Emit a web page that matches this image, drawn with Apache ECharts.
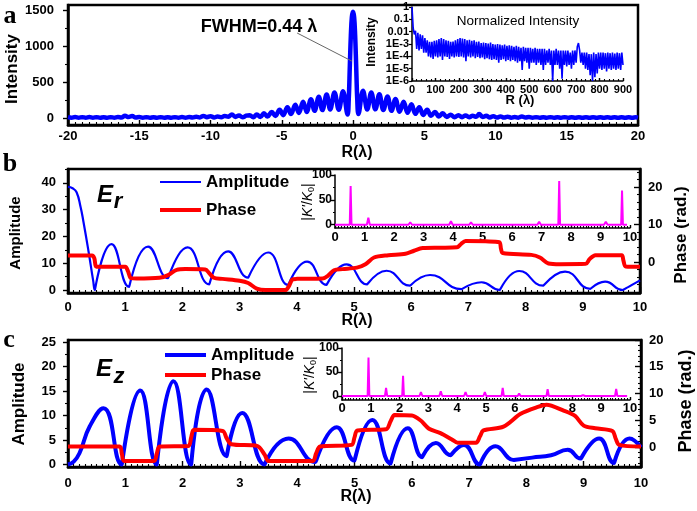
<!DOCTYPE html>
<html><head><meta charset="utf-8">
<script src="https://cdn.jsdelivr.net/npm/echarts@6/dist/echarts.min.js"></script>
<style>html,body{margin:0;padding:0;background:#fff}#c{width:697px;height:511px}</style>
</head><body><div id="c"></div>
<script>
// ---------- Panel a : intensity vs R ----------
const aR = [-20,-19.75,-19.5,-19.25,-19,-18.75,-18.5,-18.25,-18,-17.75,-17.5,-17.25,-17,-16.75,-16.5,-16.25,-16,-15.75,-15.5,-15.25,-15,-14.75,-14.5,-14.25,-14,-13.75,-13.5,-13.25,-13,-12.75,-12.5,-12.25,-12,-11.75,-11.5,-11.25,-11,-10.75,-10.5,-10.25,-10,-9.75,-9.5,-9.25,-9,-8.75,-8.5,-8.25,-8,-7.75,-7.5,
 -7.25,-7,-6.75,-6.5,-6.25,-6,-5.7,-5.45,-5.15,-4.9,-4.6,-4.35,-4.05,-3.8,-3.5,-3.25,-2.95,-2.7,-2.4,-2.15,-1.85,-1.6,-1.3,-1,-0.7,-0.38,-0.3,-0.22,-0.15,-0.08,0,0.08,0.15,0.22,0.3,0.38,0.7,1,1.28,1.57,1.85,2.13,2.42,2.7,2.98,3.27,3.55,3.83,4.1,4.38,4.65,4.93,5.2,5.48,5.75,6.03,6.3,6.58,6.85,7.13,7.4,7.65,7.9,8.15,8.4,8.65,8.85,9.1,9.35,9.6,9.85,10.1,10.35,10.6,10.85,11.1,11.35,11.6,11.85,12.1,12.35,12.6,12.85,13.1,13.35,13.6,13.85,14.1,14.35,14.6,14.85,15.1,15.35,15.6,15.85,16.1,16.35,16.6,16.85,17.1,17.35,17.6,17.85,18.1,18.35,18.6,18.85,19.1,19.35,19.6,19.85,20];
const aI = [12,5,14,5,12,4,13,5,12,4,11,4,12,5,14,8,30,14,28,6,14,5,12,4,11,4,12,4,11,4,12,5,13,5,14,6,16,8,28,12,26,8,20,10,28,18,50,15,35,10,32,
 40,10,50,15,65,20,85,28,115,40,150,55,185,70,225,85,262,100,295,110,325,118,355,115,372,50,250,740,1150,1400,1475,1400,1150,740,250,55,380,118,355,120,330,112,300,100,265,88,225,72,190,58,150,42,115,30,85,22,65,15,45,10,40,12,35,12,30,18,55,15,30,8,25,6,22,6,18,5,15,5,20,6,14,5,12,4,11,4,12,4,11,5,12,4,11,4,10,4,11,4,10,4,11,4,10,4,11,4,10,4,10,4,10,6];
const fwhmText = 'FWHM=0.44 λ';
const fwhmFrom = [-3.92, 1180];
const fwhmTo = [-0.08, 790];

// ---------- Panel a inset : normalized intensity (log), sampled every 5 λ ----------
const insetStep = 5;
const insetI = [
 1,0.02,0.006,0.012,0.0004,0.008,0.0003,0.006,0.0004,0.005,
 0.0002,0.003,0.0002,0.002,0.0001,0.0015,0.00008,0.0015,0.00006,0.0018,
 0.0001,0.002,0.00008,0.0025,0.0001,0.003,0.00005,0.0025,0.0001,0.002,
 0.00009,0.0018,0.00006,0.0015,0.0001,0.0016,0.00008,0.002,0.0001,0.0025,
 0.00009,0.003,0.0001,0.0028,0.00008,0.0025,0.00004,0.002,0.0001,0.0022,
 0.00008,0.0018,0.0001,0.002,0.00007,0.0015,0.00009,0.0016,0.00007,0.0012,
 0.00008,0.0013,0.00006,0.0012,0.00007,0.0011,0.00006,0.0013,0.00005,0.001,
 0.00006,0.0009,0.00005,0.001,0.00003,0.0009,0.00005,0.0008,0.00006,0.0009,
 0.00004,0.0007,0.00005,0.0008,0.00004,0.0007,0.00005,0.0006,0.00004,0.0007,
 0.00003,0.0006,0.00004,0.0005,0.000008,0.0006,0.00004,0.0005,0.00003,0.0005,
 0.00001,0.0005,0.00003,0.0004,0.00003,0.0005,0.00002,0.0004,0.00003,0.0004,
 0.00002,0.0004,0.000008,0.0004,0.00002,0.0003,0.00003,0.0004,0.00002,0.0003,
 0.000001,0.0003,0.00002,0.0004,0.00002,0.0003,0.00001,0.0003,0.0000015,0.0003,
 0.00002,0.0003,0.000015,0.0003,0.00002,0.0002,0.00001,0.0003,0.00002,0.0003,
 0.00003,0.0006,0.0012,0.0003,0.00003,0.0002,0.00002,0.0002,0.00001,0.0002,
 0.000008,0.00015,0.000003,0.00015,0.000001,0.0002,0.000002,0.00015,0.000004,0.0002,
 0.00001,0.0002,0.000008,0.0002,0.00001,0.00018,0.000006,0.0002,0.00001,0.00018,
 0.000008,0.0002,0.00001,0.00017,0.000008,0.0002,0.00001,0.00018,0.000008,0.0002,
 0.00002];
const insetDecades = [1e-6,1e-5,1e-4,1e-3,0.01,0.1,1];

// ---------- Panel b : E_r ----------
const bAmpR = [0,0.08,0.15,0.22,0.27,0.36,0.44,0.47,0.48,0.76,1.07,1.08,1.4,1.75,1.76,2.09,2.47,2.48,2.8,3.15,3.16,3.5,3.85,3.86,4.18,4.52,4.53,4.87,5.23,5.24,5.57,5.98,5.99,6.33,6.88,6.89,7.23,7.55,7.56,7.89,8.31,8.32,8.69,9.13,9.14,9.39,9.7,9.71,10];
const bAmp  = [38.5,38,36.5,31,25.5,14.3,3.5,0,0,17.1,1.2,1.2,16.2,4.4,4.4,15.9,2.1,2.1,14.4,4.6,4.6,14,1.9,1.9,10.6,1.9,1.9,9.6,2.1,2.1,7.2,1.6,1.6,5.6,0.3,0.3,2.9,0,0,7.1,1.6,1.6,6.9,0.4,0.4,3.1,0,0,3.6];
const bPhR = [0,0.42,0.46,0.49,0.55,1.0,1.05,1.1,1.2,1.6,1.75,1.9,2.05,2.4,2.47,2.55,2.7,3.0,3.15,3.3,3.45,3.8,3.86,3.92,4.0,4.45,4.55,4.65,4.8,5.05,5.2,5.35,5.6,5.9,6.05,6.2,6.5,6.8,6.87,6.95,7.3,7.54,7.57,7.6,8.1,8.25,8.4,8.6,9.05,9.12,9.22,9.68,9.71,9.75,10];
const bPh  = [1.7,1.7,1.0,-1.2,-1.3,-1.3,-2.5,-4.3,-4.4,-4.2,-3.5,-2.1,-1.9,-2.0,-3.0,-4.2,-4.5,-5.0,-5.6,-7.1,-7.5,-7.5,-6.5,-4.7,-4.5,-4.4,-3.6,-2.2,-1.9,-1.5,-0.6,1.2,1.8,2.2,3.0,3.7,3.8,3.9,4.8,5.6,5.5,5.3,3.5,2.4,1.9,1.2,-0.4,-0.6,-0.5,0.8,1.8,1.8,0.4,-1.2,-1.3];
const kbR = [0,0.5,0.53,0.56,1.08,1.13,1.18,1.75,1.81,1.87,2.49,2.55,2.61,3.16,3.22,3.28,3.87,3.93,3.99,4.55,4.61,4.67,5.25,5.31,5.37,5.96,6.02,6.08,6.86,6.92,6.98,7.57,7.6,7.63,8.3,8.36,8.42,9.12,9.18,9.24,9.7,9.73,9.76,9.9];
const kb  = [0,0,78,0,0,14,0,0,3,0,0,5,0,0,3,0,0,7,0,0,5,0,0,3,0,0,3,0,0,6,0,0,88,0,0,3,0,0,6,0,0,69,0,0];

// ---------- Panel c : E_z ----------
const cAmpR = [0,0.1,0.2,0.38,0.62,0.94,0.95,1.26,1.55,1.56,1.84,2.15,2.16,2.42,2.77,2.78,3.04,3.43,3.44,3.85,4.32,4.33,4.69,5.0,5.01,5.31,5.63,5.64,5.93,6.18,6.19,6.42,6.68,6.69,6.91,7.19,7.2,7.46,7.78,7.79,8.1,8.43,8.72,8.95,8.96,9.27,9.53,9.54,9.8,10];
const cAmp  = [0,0.6,2.3,7.8,11.5,0,0,15.1,0,0,17,0,0,15.3,1.7,1.7,10.5,0,0,5.3,0.5,0.5,7.6,0.8,0.8,9.1,0.2,0.2,7.4,1.5,1.5,4.4,1.9,1.9,4.0,0,0,3.7,0.9,0.9,1.4,1.9,3.0,1.2,1.2,5.3,0.3,0.3,5.3,3.5];
const cPhR = [0,0.9,0.94,0.98,1.5,1.55,1.6,2.1,2.15,2.2,2.7,2.77,2.85,3.3,3.43,3.5,4.27,4.33,4.4,4.95,5.0,5.05,5.55,5.63,5.7,6.0,6.15,6.3,6.5,6.7,6.8,7.12,7.19,7.25,7.6,7.9,8.2,8.35,8.65,8.85,9.0,9.2,9.5,9.56,9.62,10];
const cPh  = [0.1,0.1,-1.3,-2.6,-2.6,-1.2,0.1,0.2,1.8,3.2,3.0,1.6,0.5,0.2,-1.4,-2.6,-2.6,-1.2,0.1,0.4,1.8,3.1,3.3,4.8,6.0,5.9,5.0,3.4,2.6,1.4,0.8,0.8,2.0,3.1,3.8,6.2,7.5,7.9,6.8,5.8,4.0,3.5,3.0,1.5,0.4,0.1];
const kcR = [0,0.89,0.92,0.95,1.49,1.53,1.57,2.09,2.12,2.15,2.69,2.74,2.79,3.38,3.43,3.48,4.24,4.29,4.34,4.91,4.96,5.01,5.54,5.58,5.62,6.1,6.15,6.2,6.57,6.62,6.67,7.1,7.14,7.18,7.7,7.76,7.82,8.3,8.37,8.44,8.88,8.94,9.0,9.48,9.52,9.56,9.9];
const kc  = [0,0,80,0,0,17,0,0,42,0,0,8,0,0,10,0,0,8,0,0,8,0,0,17,0,0,5,0,0,4,0,0,14,0,0,3,0,0,2,0,0,4,0,0,15,0,0];

// ---------- tick labels ----------
const aTicksY = [0,500,1000,1500];
const bTicksL = [0,10,20,30,40];
const bTicksR = [0,10,20];
const cTicksL = [0,5,10,15,20,25];
const cTicksR = [0,5,10,15,20];
const kTicks = [0,50,100];

// ================= build =================
const FONT = '"Liberation Sans", Arial, Helvetica, sans-serif';
const BLUE = '#0000ff', RED = '#ff0000', MAG = '#ff00ff';
function pairs(xs, ys){ return xs.map((x,i)=>[x, ys[i]]); }
const insetData = insetI.map((v,i)=>[i*insetStep, v]);

const lab = (fs, margin) => ({show:true, fontSize:fs, fontWeight:'bold', color:'#000', fontFamily:FONT, margin, formatter:v => String(v)});
function xAx(grid, min, max, interval, o){
  return {type:'value', gridIndex:grid, min, max, interval, position:'bottom',
    axisLine:{show:true, onZero:false, lineStyle:{color:'#000', width:o.lw}},
    axisTick:{show:true, inside:true, length:o.tl, lineStyle:{color:'#000', width:1.4}},
    minorTick:{show:true, splitNumber:o.minor, length:o.ml, lineStyle:{color:'#000', width:1.1}},
    axisLabel:lab(o.fs, o.margin), splitLine:{show:false}, minorSplitLine:{show:false}};
}
function yAx(grid, min, max, majors, pos, o){
  return {type:'value', gridIndex:grid, min, max, position:pos,
    axisLine:{show:true, onZero:false, lineStyle:{color:'#000', width:o.lw}},
    axisTick:{show:true, inside:o.inside, length:o.tl, customValues:majors, lineStyle:{color:'#000', width:1.4}},
    axisLabel:Object.assign(lab(o.fs, o.margin), {customValues:majors}),
    splitLine:{show:false}};
}
function yMinor(grid, min, max, minors, pos, inside, len){
  return {type:'value', gridIndex:grid, min, max, position:pos,
    axisLine:{show:false, onZero:false},
    axisTick:{show:true, inside, length:len, customValues:minors, lineStyle:{color:'#000', width:1.1}},
    axisLabel:{show:false, customValues:minors}, splitLine:{show:false}};
}
const frame = {show:true, borderColor:'#000', borderWidth:2.5, backgroundColor:'transparent'};
const grids = [
  Object.assign({left:68, top:5, width:570, height:120}, frame),
  {left:412, top:7, width:211, height:74},
  Object.assign({left:68, top:169, width:572, height:124}, frame),
  {left:335, top:175, width:295, height:53},
  Object.assign({left:68, top:340, width:573, height:127}, frame),
  {left:342, top:348, width:288, height:52}
].map(g => Object.assign({containLabel:false, outerBoundsMode:'none'}, g));

const xAxes = [
  xAx(0,-20,20,5,{lw:2.5, tl:5, minor:10, ml:3, fs:13, margin:5}),
  xAx(1,0,900,100,{lw:1.5, tl:3, minor:5, ml:2, fs:11, margin:3}),
  xAx(2,0,10,1,{lw:2.5, tl:6, minor:10, ml:3, fs:13, margin:8}),
  xAx(3,0,10,1,{lw:1.5, tl:3, minor:10, ml:2, fs:13, margin:3}),
  xAx(4,0,10,1,{lw:2.5, tl:6, minor:10, ml:3, fs:13, margin:10}),
  xAx(5,0,10,1,{lw:1.5, tl:3, minor:10, ml:2, fs:13, margin:2})
];
const logFmt = v => { const e = Math.round(Math.log10(v)); return e >= -2 ? ({'0':'1','-1':'0.1','-2':'0.01'})[String(e)] : '1E' + e; };
const yAxes = [
  yAx(0,-97,1569,aTicksY,'left',{lw:2.5, inside:false, tl:5, fs:13, margin:14}),
  yMinor(0,-97,1569,[250,750,1250],'left',false,3),
  {type:'log', gridIndex:1, logBase:10, min:1e-6, max:1, position:'left',
   axisLine:{show:true, onZero:false, lineStyle:{color:'#000', width:1.5}},
   axisTick:{show:true, inside:false, length:3, customValues:insetDecades, lineStyle:{color:'#000', width:1.2}},
   axisLabel:Object.assign(lab(11,3), {customValues:insetDecades, formatter:logFmt}),
   splitLine:{show:false}, minorTick:{show:false}},
  yAx(2,-1.12,45.2,bTicksL,'left',{lw:2.5, inside:false, tl:5, fs:13, margin:12}),
  yMinor(2,-1.12,45.2,[5,15,25,35,45],'left',false,3),
  yAx(2,-8.27,24.8,bTicksR,'right',{lw:2.5, inside:true, tl:6, fs:13, margin:8}),
  yMinor(2,-8.27,24.8,[-8,-6,-4,-2,2,4,6,8,12,14,16,18,22,24],'right',true,3),
  yAx(3,-6.6,100,kTicks,'left',{lw:1.5, inside:false, tl:4, fs:12, margin:3}),
  yMinor(3,-6.6,100,[25,75],'left',false,2),
  yAx(4,-0.51,25.41,cTicksL,'left',{lw:2.5, inside:false, tl:5, fs:13, margin:12}),
  yMinor(4,-0.51,25.41,[2.5,7.5,12.5,17.5,22.5],'left',false,3),
  yAx(4,-3.74,20,cTicksR,'right',{lw:2.5, inside:true, tl:6, fs:13, margin:8}),
  yMinor(4,-3.74,20,[-3,-2,-1,1,2,3,4,6,7,8,9,11,12,13,14,16,17,18,19],'right',true,3),
  yAx(5,-8.3,100,kTicks,'left',{lw:1.5, inside:false, tl:4, fs:12, margin:3}),
  yMinor(5,-8.3,100,[25,75],'left',false,2)
];

const line = (name, xi, yi, data, color, width, smooth, extra) => Object.assign({
  name, type:'line', xAxisIndex:xi, yAxisIndex:yi, data, symbol:'none', showSymbol:false,
  smooth, lineStyle:{color, width}, itemStyle:{color}, silent:true, animation:false}, extra || {});

const series = [
  line('Intensity',0,0,pairs(aR,aI),BLUE,4.5,0.4,{
    markLine:{silent:true, symbol:'none', label:{show:false}, animation:false,
      lineStyle:{color:'#666', width:1, type:'solid'},
      data:[[{coord:fwhmFrom},{coord:fwhmTo}]]}}),
  line('Normalized',1,2,insetData,BLUE,1.6,false),
  line('Amplitude',2,3,pairs(bAmpR,bAmp),BLUE,2.2,0.5),
  line('Phase',2,5,pairs(bPhR,bPh),RED,4,0.3),
  line('Kb',3,7,pairs(kbR,kb),MAG,2,false),
  line('Amplitude',4,9,pairs(cAmpR,cAmp),BLUE,4,0.5),
  line('Phase',4,11,pairs(cPhR,cPh),RED,4,0.3),
  line('Kc',5,13,pairs(kcR,kc),MAG,2,false)
];

const legTxt = {fontSize:17, fontWeight:'bold', fontFamily:FONT, color:'#000', lineHeight:18};
const leg = (name, left, top, h) => ({data:[name], left, top, padding:0, itemWidth:41, itemHeight:h, icon:'rect', selectedMode:false, textStyle:legTxt});
const legends = [leg('Amplitude',160,173,2), leg('Phase',160,201,4), leg('Amplitude',165,346,4), leg('Phase',165,366,4)];

function T(text, x, y, font, extra){
  return Object.assign({type:'text', x, y, silent:true, z:100,
    style:Object.assign({text, font, fill:'#000', textAlign:'center', textVerticalAlign:'middle', align:'center', verticalAlign:'middle'}, (extra && extra.style) || {})},
    extra ? {rotation: extra.rotation || 0} : {});
}
const R90 = Math.PI/2;
const kRich = {
  i:{fontStyle:'italic', fontSize:14, fontFamily:FONT, fill:'#000'},
  n:{fontSize:14, fontFamily:FONT, fill:'#000'},
  s:{fontSize:9, fontFamily:FONT, fill:'#000', padding:[8,0,0,0]}
};
const kLabel = '{n||}{i|K\'}{n|/}{i|K}{s|0}{n||}';
const graphics = [
  T('a', 10, 16, 'bold 26px "Liberation Serif", serif'),
  T('b', 10, 164, 'bold 26px "Liberation Serif", serif'),
  T('c', 9, 340, 'bold 26px "Liberation Serif", serif'),
  T(fwhmText, 259, 27, 'bold 18px ' + FONT),
  T('Normalized Intensity', 518, 21, '13.5px ' + FONT),
  T('Intensity', 12, 69, 'bold 17px ' + FONT, {rotation:R90}),
  T('R(λ)', 357, 153, 'bold 16px ' + FONT),
  T('Intensity', 372, 42, 'bold 12px ' + FONT, {rotation:R90}),
  T('R (λ)', 520, 100, 'bold 13px ' + FONT),
  T('Amplitude', 16, 233, 'bold 15px ' + FONT, {rotation:R90}),
  T('Phase (rad.)', 681, 235, 'bold 17px ' + FONT, {rotation:R90}),
  T('R(λ)', 357, 321, 'bold 16px ' + FONT),
  T(kLabel, 308, 202, '14px ' + FONT, {rotation:R90, style:{rich:kRich}}),
  T('Amplitude', 19, 404, 'bold 17px ' + FONT, {rotation:R90}),
  T('Phase (rad.)', 686, 401, 'bold 18px ' + FONT, {rotation:R90}),
  T('R(λ)', 356, 497, 'bold 16px ' + FONT),
  T(kLabel, 310, 375, '14px ' + FONT, {rotation:R90, style:{rich:kRich}}),
  T('E', 105, 195, 'italic bold 24px ' + FONT),
  T('r', 118, 202, 'italic bold 22px ' + FONT),
  T('E', 104, 369.5, 'italic bold 24px ' + FONT),
  T('z', 119, 377, 'italic bold 22px ' + FONT)
];

const chart = echarts.init(document.getElementById('c'), null, {renderer:'canvas'});
chart.setOption({
  animation:false,
  backgroundColor:'#fff',
  textStyle:{fontFamily:FONT},
  grid:grids, xAxis:xAxes, yAxis:yAxes, series, legend:legends, graphic:graphics
});
</script>
</body></html>
